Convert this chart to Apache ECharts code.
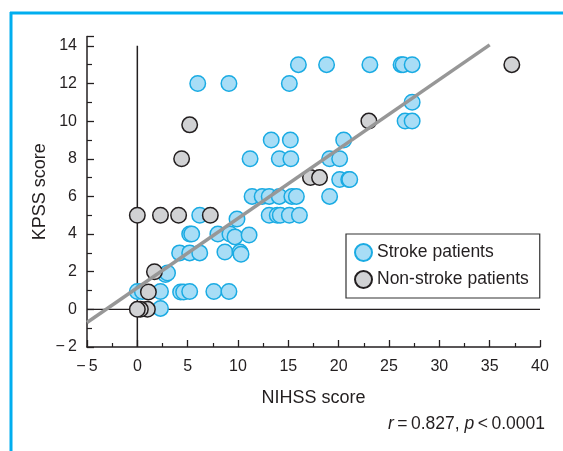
<!DOCTYPE html>
<html>
<head>
<meta charset="utf-8">
<script src="https://cdn.jsdelivr.net/npm/echarts@6/dist/echarts.min.js"></script>
<style>html,body{margin:0;padding:0;background:#fff;}#c{width:563px;height:451px;}</style>
</head>
<body>
<div id="c"></div>
<script>
// Stroke patients (NIHSS, KPSS)
var strokeX = [16.0, 18.8, 23.1, 26.2, 26.4, 27.3, 6.0, 9.1, 15.1, 27.3, 26.6, 27.3,
  13.3, 15.2, 20.5, 11.2, 14.1, 15.25, 19.1, 20.1, 20.1, 21.0, 21.1,
  11.4, 12.4, 13.1, 14.1, 15.35, 15.8, 19.1,
  6.2, 13.1, 13.9, 14.2, 15.1, 16.1, 9.9,
  5.2, 5.4, 8.0, 9.2, 9.7, 11.1,
  4.2, 5.2, 6.2, 8.7, 10.2, 10.3,
  2.8, 3.0,
  0.0, 0.5, 2.3, 4.3, 4.6, 5.2, 7.6, 9.1,
  2.3];
var strokeY = [13, 13, 13, 13, 13, 13, 12, 12, 12, 11, 10, 10,
  9, 9, 9, 8, 8, 8, 8, 8, 6.9, 6.9, 6.9,
  6, 6, 6, 6, 6, 6, 6,
  5, 5, 5, 5, 5, 5, 4.8,
  4, 4, 4, 4, 3.85, 3.95,
  3, 3, 3, 3.05, 3.05, 2.93,
  1.85, 1.93,
  0.95, 0.95, 0.95, 0.92, 0.92, 0.95, 0.95, 0.95,
  0.05];
// Non-stroke patients
var nonStrokeX = [37.2, 5.2, 4.4, 23.0, 17.2, 18.1, 0.0, 2.3, 4.1, 7.25, 1.7, 1.1, 1.0, 0.3, 0.0];
var nonStrokeY = [13, 9.8, 8.0, 10, 7, 7, 5, 5, 5, 5, 2.0, 0.92, 0.0, 0.0, 0.0];
// Regression line endpoints
var fitX = [-5, 35];
var fitY = [-0.7, 14.05];
// Axes
var xTicks = [-5, 0, 5, 10, 15, 20, 25, 30, 35, 40];
var yTicks = [-2, 0, 2, 4, 6, 8, 10, 12, 14];

function pairs(xs, ys) { return xs.map(function (x, i) { return [x, ys[i]]; }); }
function fmt(v) { return v < 0 ? '\u2212\u2009' + Math.abs(v) : String(v); }

var FONT = '"Liberation Sans", Arial, Helvetica, sans-serif';
var TXT = '#231F20';

var chart = echarts.init(document.getElementById('c'), null, {renderer: 'canvas'});
chart.setOption({
  animation: false,
  backgroundColor: '#fff',
  textStyle: {fontFamily: FONT},
  grid: {left: 87, right: 23, top: 36.4, bottom: 104, containLabel: false},
  xAxis: {
    type: 'value', min: xTicks[0], max: xTicks[xTicks.length - 1], interval: 5,
    name: 'NIHSS score', nameLocation: 'middle', nameGap: 42, nameMoveOverlap: false,
    nameTextStyle: {fontSize: 18, color: TXT, fontFamily: FONT},
    axisLine: {show: true, onZero: false, lineStyle: {color: TXT, width: 1.5}},
    axisTick: {show: true, inside: true, length: 7, lineStyle: {color: TXT, width: 1.3}},
    minorTick: {show: true, splitNumber: 2, length: 4, lineStyle: {color: TXT, width: 1.2}},
    splitLine: {show: false}, minorSplitLine: {show: false},
    axisLabel: {fontSize: 16, color: TXT, margin: 12, fontFamily: FONT, formatter: fmt}
  },
  yAxis: {
    type: 'value', min: yTicks[0], max: 14.5, interval: 2,
    name: 'KPSS score', nameLocation: 'middle', nameGap: 38, nameRotate: 90, nameMoveOverlap: false,
    nameTextStyle: {fontSize: 18, color: TXT, fontFamily: FONT},
    axisLine: {show: true, onZero: false, lineStyle: {color: TXT, width: 1.5}},
    axisTick: {show: true, inside: true, length: 7, lineStyle: {color: TXT, width: 1.3}},
    minorTick: {show: true, splitNumber: 2, length: 5, lineStyle: {color: TXT, width: 1.2}},
    splitLine: {show: false}, minorSplitLine: {show: false},
    axisLabel: {fontSize: 16, color: TXT, margin: 10, fontFamily: FONT,
      formatter: function (v) { return yTicks.indexOf(v) >= 0 ? fmt(v) : ''; }}
  },
  legend: {
    data: ['Stroke patients', 'Non-stroke patients'],
    orient: 'vertical', left: 346, top: 234,
    padding: [9, 11, 9, 8], itemGap: 8, itemWidth: 17, itemHeight: 17,
    icon: 'circle', borderColor: '#333', borderWidth: 1.2,
    textStyle: {fontSize: 17.5, color: TXT, fontFamily: FONT}
  },
  graphic: [
    {type: 'line', shape: {x1: 10, y1: 13, x2: 563, y2: 13}, style: {stroke: '#00AEEF', lineWidth: 3}},
    {type: 'line', shape: {x1: 11, y1: 12, x2: 11, y2: 451}, style: {stroke: '#00AEEF', lineWidth: 3}},
    {type: 'text', right: 18, top: 415,
      style: {text: '{i|r}\u2009=\u20090.827, {i|p}\u2009<\u20090.0001',
        font: '17.5px ' + FONT, fill: TXT,
        rich: {i: {fontStyle: 'italic', fontSize: 17.5, fontFamily: FONT, fill: TXT}}}}
  ],
  series: [
    {type: 'line', name: 'zeroV', data: [[0, yTicks[0]], [0, 14]], showSymbol: false, silent: true, z: 1,
      lineStyle: {color: TXT, width: 1.5}},
    {type: 'line', name: 'zeroH', data: [[xTicks[0], 0], [xTicks[xTicks.length - 1], 0]], showSymbol: false, silent: true, z: 1,
      lineStyle: {color: TXT, width: 1.3}},
    {type: 'scatter', name: 'Stroke patients', data: pairs(strokeX, strokeY), symbol: 'circle', symbolSize: 15.5, z: 3,
      itemStyle: {color: '#A8DDF6', borderColor: '#1AABE3', borderWidth: 1.5, opacity: 1}},
    {type: 'scatter', name: 'Non-stroke patients', data: pairs(nonStrokeX, nonStrokeY), symbol: 'circle', symbolSize: 15.5, z: 3,
      itemStyle: {color: '#D1D2D4', borderColor: '#231F20', borderWidth: 1.5, opacity: 1}},
    {type: 'line', name: 'fit', data: pairs(fitX, fitY), showSymbol: false, silent: true, z: 4,
      lineStyle: {color: '#979797', width: 3.5}}
  ]
});
</script>
</body>
</html>
